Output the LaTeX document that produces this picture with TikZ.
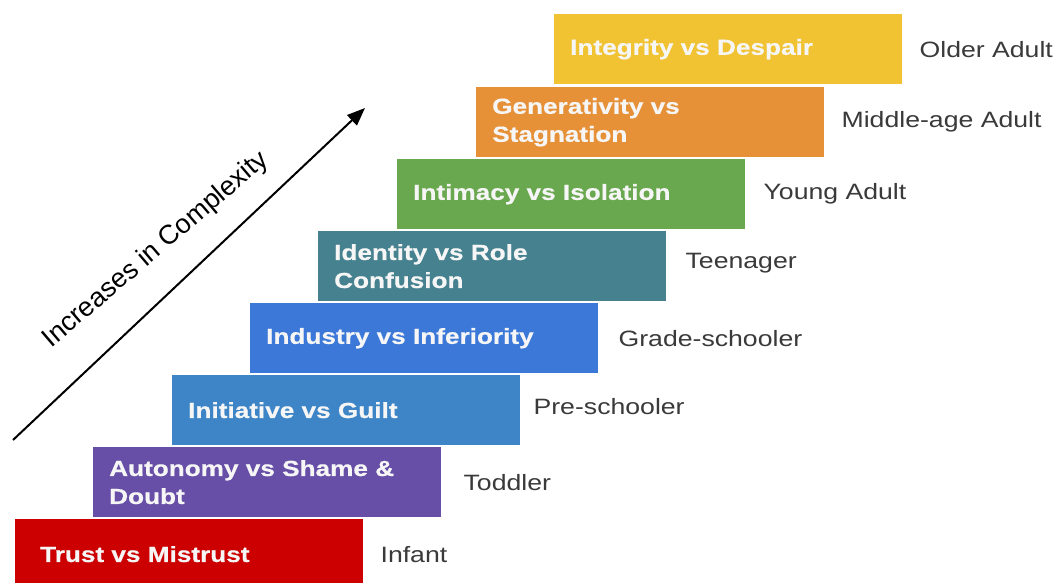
\documentclass[tikz,border=0pt]{standalone}
\usepackage{fontspec}
\setmainfont{Liberation Sans}
\newfontfamily\widefont{Liberation Sans}[FakeStretch=1.2]
\newfontfamily\wideboldfont{Liberation Sans Bold}[FakeStretch=1.2, FakeBold=0.6]
\usetikzlibrary{arrows.meta,positioning}

\definecolor{cTrust}{HTML}{CC0000}
\definecolor{cAuto}{HTML}{674EA7}
\definecolor{cInit}{HTML}{3D85C6}
\definecolor{cIndu}{HTML}{3C78D8}
\definecolor{cIden}{HTML}{45818E}
\definecolor{cInti}{HTML}{6AA84F}
\definecolor{cGene}{HTML}{E69138}
\definecolor{cInte}{HTML}{F1C232}
\definecolor{ageText}{HTML}{3A3A3A}
\definecolor{stageText}{HTML}{F6F6F6}

\tikzset{
  stage/.style={anchor=north west, minimum width=348pt, minimum height=70pt,
    inner xsep=16pt, inner ysep=0pt, text width=316pt, align=left,
    text=stageText, draw=none,
    font=\wideboldfont\fontsize{21.8}{28}\selectfont},
  age/.style={anchor=west, inner sep=0pt, text=ageText,
    font=\widefont\fontsize{22.2}{26}\selectfont},
  trend/.style={line width=2pt, -{Triangle[length=18pt,width=14pt]}}
}

\begin{document}
\begin{tikzpicture}[x=1pt,y=1pt]
  \useasboundingbox (0,0) rectangle (1059,582);
  \clip (0,0) rectangle (1059,582);
  \fill[white] (0,0) rectangle (1059,582);

  % the eight stages, bottom to top
  \node[stage, fill=cTrust, inner xsep=25pt, text width=298pt] (trust) at (15,63) {Trust vs Mistrust};
  \node[stage, fill=cAuto] (auto) at (93,135) {Autonomy vs Shame \&\\Doubt};
  \node[stage, fill=cInit] (init) at (172,207) {Initiative vs Guilt};
  \node[stage, fill=cIndu] (indu) at (250,279) {Industry vs Inferiority};
  \node[stage, fill=cIden] (iden) at (318,351) {Identity vs Role\\Confusion};
  \node[stage, fill=cInti] (inti) at (397,423) {Intimacy vs Isolation};
  \node[stage, fill=cGene] (gene) at (476,495) {Generativity vs\\Stagnation};
  \node[stage, fill=cInte] (inte) at (554,568) {Integrity vs Despair};

  % age labels beside each stage
  \node[age, right=17pt of trust] {Infant};
  \node[age, right=22pt of auto] {Toddler};
  \node[age, right=13pt of init, yshift=4pt] {Pre-schooler};
  \node[age, right=20pt of indu] {Grade-schooler};
  \node[age, right=19pt of iden, yshift=3pt] {Teenager};
  \node[age, right=18pt of inti] {Young Adult};
  \node[age, right=17pt of gene] {Middle-age Adult};
  \node[age, right=17pt of inte] {Older Adult};

  % complexity arrow and its caption
  \coordinate (low) at (13,142);
  \coordinate (high) at (365,474);
  \draw[trend] (low) -- (high);
  \node[rotate=40.5, inner sep=0pt, font=\fontsize{27}{30}\selectfont,
    text=black] (caption) at (156,332) {Increases in Complexity};
\end{tikzpicture}
\end{document}
